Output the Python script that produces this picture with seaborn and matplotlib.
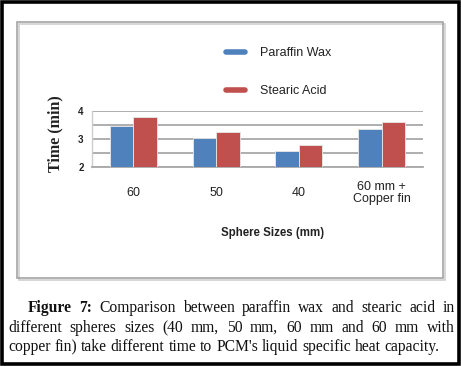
import numpy as np
import pandas as pd
import matplotlib
matplotlib.use('Agg')
import matplotlib.pyplot as plt
import seaborn as sns
from matplotlib.patches import Rectangle
from matplotlib.lines import Line2D

# values
sphere_sizes = ['60', '50', '40', '60 mm +\nCopper fin']
paraffin_wax = [3.48, 3.02, 2.58, 3.36]
stearic_acid = [3.77, 3.25, 2.78, 3.60]
materials = ['Paraffin Wax', 'Stearic Acid']
colors = ['#4f81bd', '#c0504d']

df = pd.DataFrame({
    'size': sphere_sizes * 2,
    'time': paraffin_wax + stearic_acid,
    'material': [materials[0]] * 4 + [materials[1]] * 4,
})

W, H = 461, 366
sns.set_style('white')
plt.rcParams['font.family'] = ['Liberation Sans', 'DejaVu Sans']

fig = plt.figure(figsize=(W / 100, H / 100), dpi=100)
fig.patch.set_facecolor('white')


def px(x, y):
    return x / W, 1 - y / H


# axes box in pixels: x 92-423, y 111-167
ax = fig.add_axes([92 / W, 1 - 167 / H, 331 / W, 56 / H])
sns.barplot(data=df, x='size', y='time', hue='material', palette=colors,
            width=0.57, saturation=1, ax=ax, legend=False,
            edgecolor='#e8e8e8', linewidth=0.6, zorder=3)

ax.set_ylim(2, 4)
ax.set_xlim(-0.5, 3.5)
ax.set_yticks([2, 2.5, 3, 3.5, 4])
ax.set_yticklabels(['2', '', '3', '', '4'], fontsize=7, fontweight='bold', color='#222222')
ax.grid(axis='y', color='#a8a8a8', linewidth=1.3, zorder=0)
ax.set_axisbelow(True)
ax.tick_params(axis='y', length=0, pad=6)
ax.tick_params(axis='x', length=0, pad=19, labelsize=9, labelcolor='#222222')
for lab in ax.get_xticklabels():
    lab.set_verticalalignment('center')
    lab.set_linespacing(1.0)
for s in ['top', 'right']:
    ax.spines[s].set_visible(False)
ax.spines['left'].set_color('#cccccc')
ax.spines['left'].set_linewidth(1.0)
ax.spines['bottom'].set_color('#a8a8a8')
ax.spines['bottom'].set_linewidth(1.3)

ax.set_ylabel('Time (min)', fontsize=11.5, fontweight='bold', family='Liberation Serif', color='#222222')
ax.yaxis.set_label_coords(-0.085, 0.59)
ax.set_xlabel('Sphere Sizes (mm)', fontsize=8.3, fontweight='bold', color='#222222')
ax.xaxis.set_label_coords(0.547, -1.07)

handles = [Line2D([0], [0], color=c, lw=4) for c in colors]
fig.legend(handles, materials, loc='upper left', bbox_to_anchor=px(215, 36),
           frameon=False, fontsize=9, handlelength=1.5, handletextpad=1.2,
           labelspacing=2.1, labelcolor='#222222')

# inner grey frame with a small shadow, outer black border
x0, y0 = px(17, 278)
fig.patches.append(Rectangle((x0 + 1.5 / W, y0 - 1.5 / H), 426 / W, 256 / H, transform=fig.transFigure,
                             fill=False, edgecolor='#d0d0d0', linewidth=1.2, zorder=0))
fig.patches.append(Rectangle((x0, y0), 426 / W, 256 / H, transform=fig.transFigure,
                             fill=False, edgecolor='#9c9c9c', linewidth=1.1, zorder=1))
fig.patches.append(Rectangle((2 / W, 2 / H), (W - 4) / W, (H - 4) / H, transform=fig.transFigure,
                             fill=False, edgecolor='black', linewidth=2.6, zorder=2))

# justified caption
cap_size = 11.25
renderer = fig.canvas.get_renderer()
cap_lines = [
    ([('Figure', 'bold'), ('7:', 'bold')] + [(w, 'normal') for w in 'Comparison between paraffin wax and stearic acid in'.split()], 28, 312, True),
    ([(w, 'normal') for w in 'different spheres sizes (40 mm, 50 mm, 60 mm and 60 mm with'.split()], 8, 332, True),
    ([(w, 'normal') for w in "copper fin) take different time to PCM's liquid specific heat capacity.".split()], 8, 351, False),
]
probe2 = fig.text(0, 0, 'a a', fontsize=cap_size, family='Liberation Serif')
probe1 = fig.text(0, 0, 'aa', fontsize=cap_size, family='Liberation Serif')
space = probe2.get_window_extent(renderer).width - probe1.get_window_extent(renderer).width
probe1.remove()
probe2.remove()

x_right = 455
for words, xl, yl, justify in cap_lines:
    texts = []
    for w, wt in words:
        t = fig.text(0, 1 - yl / H, w, fontsize=cap_size, fontweight=wt, family='Liberation Serif',
                     color='#111111', va='baseline', ha='left')
        texts.append(t)
    widths = [t.get_window_extent(renderer).width for t in texts]
    if justify:
        gap = (x_right - xl - sum(widths)) / (len(words) - 1)
    else:
        gap = space
    x = xl
    for t, wd in zip(texts, widths):
        t.set_x(x / W)
        x += wd + gap

fig.savefig('out.png', dpi=100)
